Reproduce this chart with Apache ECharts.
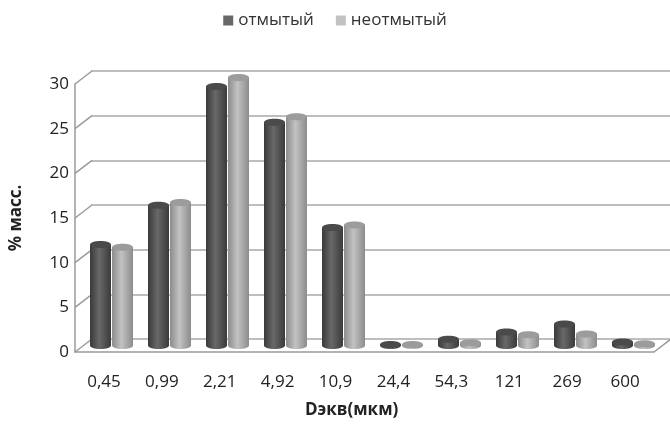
<!DOCTYPE html>
<html>
<head>
<meta charset="utf-8">
<script src="https://cdn.jsdelivr.net/npm/echarts@6/dist/echarts.min.js"></script>
<style>
  html, body { margin: 0; padding: 0; background: #fff; }
  #main { width: 670px; height: 427px; }
</style>
</head>
<body>
<div id="main"></div>
<script>
const categories = ['0,45', '0,99', '2,21', '4,92', '10,9', '24,4', '54,3', '121', '269', '600'];
const washed = [11.3, 15.7, 29.0, 25.0, 13.2, 0.1, 0.7, 1.5, 2.4, 0.4];
const unwashed = [11.0, 16.0, 30.0, 25.6, 13.5, 0.1, 0.3, 1.2, 1.3, 0.2];
const yTicks = [0, 5, 10, 15, 20, 25, 30];

const FONT = '"Open Sans", sans-serif';
const DX = 17, DY = -13; // depth of the 3d box
const BAR_W = 21;

const chart = echarts.init(document.getElementById('main'));

function cylinder(edge, mid) {
	return new echarts.graphic.LinearGradient(0, 0, 1, 0, [
		{ offset: 0, color: edge },
		{ offset: 0.45, color: mid },
		{ offset: 1, color: edge }
	]);
}

// cylinders drawn from the bar values, one side of the category per series
function cylinderSeries(name, data, side, edge, mid, top) {
	return {
		name: name,
		type: 'custom',
		xAxisIndex: 2, yAxisIndex: 2,
		itemStyle: { color: mid },
		data: data.map((v, i) => [i, v]),
		renderItem: function (params, api) {
			const p = api.coord([api.value(0), api.value(1)]);
			const b = api.coord([api.value(0), 0]);
			const cx = p[0] + side * (BAR_W / 2 + 0.5);
			const x0 = cx - BAR_W / 2;
			const body = cylinder(edge, mid);
			return {
				type: 'group',
				children: [
					{ type: 'ellipse', shape: { cx: cx, cy: b[1], rx: BAR_W / 2, ry: 3.5 }, style: { fill: body } },
					{ type: 'rect', shape: { x: x0, y: p[1], width: BAR_W, height: b[1] - p[1] }, style: { fill: body } },
					{ type: 'ellipse', shape: { cx: cx, cy: p[1], rx: BAR_W / 2, ry: 3.5 }, style: { fill: top } }
				]
			};
		},
		z: 3
	};
}

const option = {
	animation: false,
	legend: {
		top: 7,
		left: 'center',
		itemWidth: 10,
		itemHeight: 10,
		itemGap: 22,
		icon: 'rect',
		data: ['отмытый', 'неотмытый'],
		textStyle: { fontFamily: FONT, fontSize: 17, color: '#333' }
	},
	title: {
		text: 'Dэкв(мкм)',
		left: 300,
		top: 397,
		textStyle: { fontFamily: FONT, fontSize: 17, fontWeight: 'bold', color: '#222' }
	},
	grid: [
		// front plane (axis labels)
		{ left: 74, top: 84, width: 580, height: 268 },
		// back wall
		{ left: 74 + DX, top: 84 + DY, width: 600, height: 268 },
		// middle, where the bars stand
		{ left: 74 + DX / 2, top: 84 + DY / 2, width: 580, height: 268 }
	],
	xAxis: [
		{
			gridIndex: 0, type: 'category', data: categories,
			axisLine: { lineStyle: { color: '#9a9a9a', width: 1.5 } },
			axisTick: { show: false },
			axisLabel: { margin: 22, fontFamily: FONT, fontSize: 17, color: '#222' }
		},
		{
			gridIndex: 1, type: 'category', data: categories,
			axisLine: { show: false }, axisTick: { show: false }, axisLabel: { show: false }
		},
		{
			gridIndex: 2, type: 'category', data: categories,
			axisLine: { show: false }, axisTick: { show: false }, axisLabel: { show: false }
		}
	],
	yAxis: [
		{
			gridIndex: 0, type: 'value', min: 0, max: 30, interval: 5,
			name: '% масс.', nameLocation: 'middle', nameGap: 50, nameRotate: 90,
			nameTextStyle: { fontFamily: FONT, fontSize: 17, fontWeight: 'bold', color: '#222' },
			axisLine: { show: true, lineStyle: { color: '#9a9a9a', width: 1.5 } },
			axisTick: { show: false },
			splitLine: { show: false },
			axisLabel: { margin: 6, fontFamily: FONT, fontSize: 17, color: '#222' }
		},
		{
			gridIndex: 1, type: 'value', min: 0, max: 30, interval: 5,
			axisLine: { show: false }, axisTick: { show: false }, axisLabel: { show: false },
			splitLine: { show: true, lineStyle: { color: '#a8a8a8', width: 1.5 } }
		},
		{
			gridIndex: 2, type: 'value', min: 0, max: 30, interval: 5,
			axisLine: { show: false }, axisTick: { show: false }, axisLabel: { show: false },
			splitLine: { show: false }
		}
	],
	series: [
		{
			// diagonals on the left wall and the floor corner
			type: 'custom',
			xAxisIndex: 0, yAxisIndex: 0,
			silent: true,
			data: yTicks.map(v => [0, v]),
			renderItem: function (params, api) {
				const cs = params.coordSys;
				const y = api.coord([0, api.value(1)])[1];
				const children = [{
					type: 'line',
					shape: { x1: cs.x, y1: y, x2: cs.x + DX, y2: y + DY },
					style: { stroke: '#9a9a9a', lineWidth: 1.5 }
				}];
				if (api.value(1) === 0) {
					children.push({
						type: 'line',
						shape: { x1: cs.x + cs.width, y1: y, x2: cs.x + cs.width + DX, y2: y + DY },
						style: { stroke: '#9a9a9a', lineWidth: 1.5 }
					});
				}
				return { type: 'group', children: children };
			},
			z: 1
		},
		cylinderSeries('отмытый', washed, -1, '#3a3a3a', '#686868', '#4a4a4a'),
		cylinderSeries('неотмытый', unwashed, 1, '#8c8c8c', '#c2c2c2', '#9c9c9c')
	]
};

chart.setOption(option);
</script>
</body>
</html>
